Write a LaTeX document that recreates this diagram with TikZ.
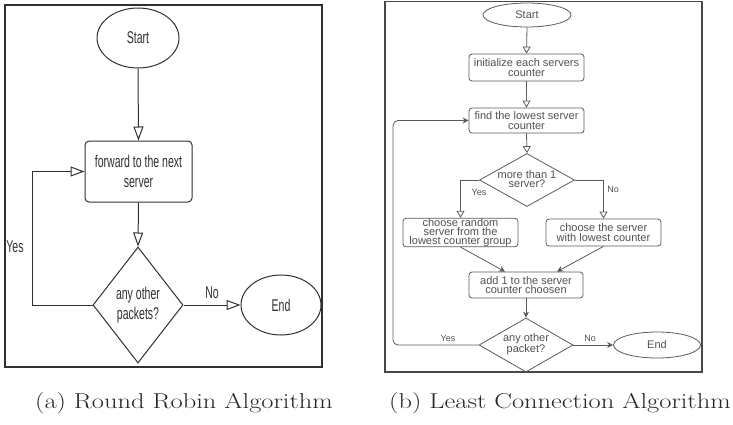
\documentclass[tikz,border=0pt]{standalone}
\usepackage{fontspec}
\newfontfamily\narrowsans[FakeStretch=0.62]{Liberation Sans}
\newfontfamily\plainsans{Liberation Sans}
\newfontfamily\widecaption[FakeStretch=1.23]{Latin Modern Roman}
\usetikzlibrary{shapes.geometric,arrows.meta,calc}
\definecolor{lineA}{HTML}{303030}
\definecolor{lineB}{HTML}{5A5A5A}
\definecolor{textB}{HTML}{505050}
\begin{document}
\begin{tikzpicture}[x=1pt,y=-1pt,
  % left flowchart
  aline/.style={draw=lineA, line width=1pt},
  aarrow/.style={aline, -{Triangle[open,length=14pt,width=10pt]}},
  afont/.style={font=\narrowsans\fontsize{17}{20}\selectfont, text=lineA},
  aterm/.style={ellipse, aline, afont, inner sep=0pt, minimum width=82pt, minimum height=60pt},
  abox/.style={rectangle, rounded corners=4pt, aline, afont, align=center, inner sep=0pt, minimum width=107pt, minimum height=61pt},
  adec/.style={diamond, aline, inner sep=0pt, minimum width=90pt, minimum height=116pt},
  alabel/.style={afont, align=center},
  % right flowchart
  bline/.style={draw=lineB, line width=0.8pt},
  bopen/.style={bline, -{Triangle[open,length=7pt,width=8pt]}},
  bfill/.style={bline, -{Stealth[length=6pt,width=6pt]}},
  bfont/.style={font=\plainsans\fontsize{11}{9.6}\selectfont, text=textB},
  bterm/.style={ellipse, bline, bfont, inner sep=0pt},
  bbox/.style={rectangle, rounded corners=3pt, bline, bfont, align=center, inner sep=0pt, minimum width=115pt, minimum height=27pt},
  bdec/.style={diamond, bline, inner sep=0pt},
  btext/.style={bfont, align=center},
  blabel/.style={font=\plainsans\fontsize{9}{10}\selectfont, text=textB},
  caption/.style={font=\widecaption\fontsize{21.5}{24}\selectfont, text=black!85}
]
\useasboundingbox (0,0) rectangle (733,424);

% ---------- (a) Round Robin ----------
\draw[draw=lineA, line width=1.6pt] (4.7,5) rectangle (322,367);
\node[aterm] (a-start) at (138,38) {Start};
\node[abox] (a-fwd) at (138.5,171.5) {forward to the next\\server};
\node[adec] (a-dec) at (138,305) {};
\node[alabel] (a-dec-text) at (a-dec) {any other\\packets?};
\node[aterm, minimum width=80pt] (a-end) at (281,305) {End};
\coordinate (a-loop) at (32,305);

\draw[aarrow] (a-start.south) -- (a-fwd.north);
\draw[aarrow] (a-fwd.south) -- (a-dec.north);
\draw[aarrow] (a-dec.east) -- (a-end.west) node[alabel, midway, above=3pt] (a-no) {No};
\draw[aarrow] (a-dec.west) -- (a-loop) |- (a-fwd.west);
\node[alabel] (a-yes) at (15,247) {Yes};

% ---------- (b) Least Connection ----------
\draw[draw=lineB!80!black, line width=1.4pt] (385,1.5) rectangle (702,372);
\node[bterm, minimum width=88pt, minimum height=24pt] (b-start) at (527,15) {Start};
\node[bbox] (b-init) at (526.5,67.5) {initialize each servers\\counter};
\node[bbox, minimum height=25pt] (b-find) at (526.5,120.5) {find the lowest server\\counter};
\node[bdec, minimum width=95pt, minimum height=53pt] (b-more) at (527,180) {};
\node[btext] (b-more-text) at (527,179) {more than 1\\server?};
\node[bbox, font=\plainsans\fontsize{11}{9.1}\selectfont] (b-rand) at (460.5,232.5) {choose random\\server from the\\lowest counter group};
\node[bbox] (b-low) at (603.5,232.5) {choose the server\\with lowest counter};
\node[bbox, minimum width=114pt, minimum height=26pt] (b-add) at (526,285) {add 1 to the server\\counter choosen};
\node[bdec, minimum width=94pt, minimum height=54pt] (b-any) at (526,345) {};
\node[btext] (b-any-text) at (526,344) {any other\\packet?};
\node[bterm, minimum width=87pt, minimum height=26pt] (b-end) at (657,345) {End};
\coordinate (b-loop) at (393,345);

\draw[bopen] (b-start.south) -- (b-init.north);
\draw[bopen] (b-init.south) -- (b-find.north);
\draw[bopen] (b-find.south) -- (b-more.north);
\draw[bopen] (b-more.west) -| (b-rand.north);
\draw[bopen] (b-more.east) -| (b-low.north);
\node[blabel] (b-yes1) at (479,192) {Yes};
\node[blabel] (b-no1) at (613,189) {No};
\draw[bfill] (b-rand.south) -- ($(b-add.north)+(-21,0)$);
\draw[bfill] (b-low.south) -- ($(b-add.north)+(31,0)$);
\draw[bfill] (b-add.south) -- (b-any.north);
\draw[bfill] (b-any.east) -- (b-end.west);
\node[blabel] (b-no2) at (590,338) {No};
\draw[bfill, rounded corners=5pt] (b-any.west) -- (b-loop) |- (b-find.west);
\node[blabel] (b-yes2) at (448,338) {Yes};

% ---------- captions ----------
\node[caption] (cap-a) at (184,403) {(a) Round Robin Algorithm};
\node[caption] (cap-b) at (560,403) {(b) Least Connection Algorithm};
\end{tikzpicture}
\end{document}
